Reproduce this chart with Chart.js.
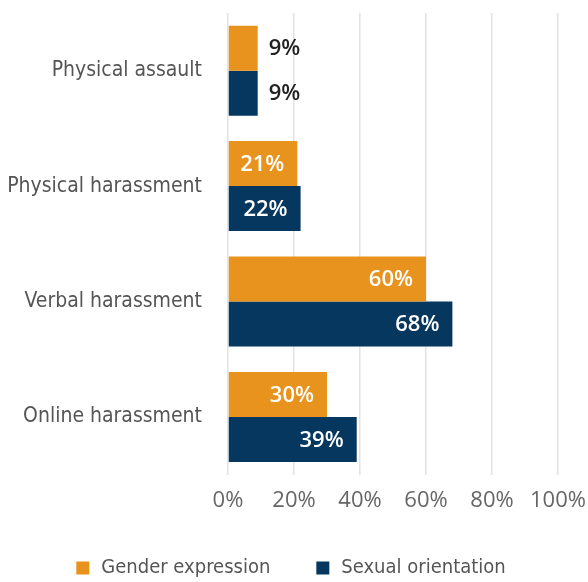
<!DOCTYPE html>
<html>
<head>
<meta charset="utf-8">
<script src="https://cdn.jsdelivr.net/npm/chart.js@4"></script>
<style>
  html, body { margin: 0; padding: 0; background: #fff; }
  #wrap { width: 588px; height: 582px; }
</style>
</head>
<body>
<div id="wrap"><canvas id="chart" width="588" height="582"></canvas></div>
<script>
const categories = ['Physical assault', 'Physical harassment', 'Verbal harassment', 'Online harassment'];
const genderExpression = [9, 21, 60, 30];
const sexualOrientation = [9, 22, 68, 39];
const xTicks = [0, 20, 40, 60, 80, 100];

const NARROW = "'Liberation Sans Narrow', 'DejaVu Sans Condensed', sans-serif";
const WIDE = "'Open Sans', sans-serif";

// labels on the bars: inside in white, outside in dark when the bar is too short
const barLabels = {
  id: 'barLabels',
  afterDatasetsDraw(chart) {
    const ctx = chart.ctx;
    ctx.save();
    ctx.font = "600 22px " + WIDE;
    ctx.textBaseline = 'middle';
    chart.data.datasets.forEach((ds, i) => {
      chart.getDatasetMeta(i).data.forEach((bar, j) => {
        const txt = ds.data[j] + '%';
        const w = ctx.measureText(txt).width;
        const len = bar.x - bar.base;
        if (len > w + 16) {
          ctx.fillStyle = '#fff';
          ctx.textAlign = 'right';
          ctx.fillText(txt, bar.x - 13, bar.y + 1);
        } else {
          ctx.fillStyle = '#222';
          ctx.textAlign = 'left';
          ctx.fillText(txt, bar.x + 11, bar.y + 1);
        }
      });
    });
    ctx.restore();
  }
};

// legend along the bottom, squares + labels, centred
const bottomLegend = {
  id: 'bottomLegend',
  afterDraw(chart) {
    const ctx = chart.ctx;
    ctx.save();
    ctx.font = "20px " + NARROW;
    ctx.textBaseline = 'middle';
    const items = chart.data.datasets.map(ds => ({ text: ds.label, color: ds.backgroundColor, w: ctx.measureText(ds.label).width }));
    const box = 13, gap = 12, sep = 46;
    let total = items.reduce((a, it) => a + box + gap + it.w, 0) + sep * (items.length - 1);
    let x = (chart.width - total) / 2 - 3;
    const y = 568;
    items.forEach(it => {
      ctx.fillStyle = it.color;
      ctx.fillRect(x, y - box / 2, box, box);
      ctx.fillStyle = '#555';
      ctx.textAlign = 'left';
      ctx.fillText(it.text, x + box + gap, y);
      x += box + gap + it.w + sep;
    });
    ctx.restore();
  }
};

new Chart(document.getElementById('chart'), {
  type: 'bar',
  data: {
    labels: categories,
    datasets: [
      { label: 'Gender expression', data: genderExpression, backgroundColor: '#E8931E' },
      { label: 'Sexual orientation', data: sexualOrientation, backgroundColor: '#06375F' }
    ]
  },
  options: {
    indexAxis: 'y',
    responsive: false,
    animation: false,
    layout: { padding: { top: 13, right: 30, bottom: 55, left: 0 } },
    datasets: { bar: { categoryPercentage: 0.78, barPercentage: 1 } },
    scales: {
      x: {
        min: 0, max: 100,
        afterBuildTicks: s => { s.ticks = xTicks.map(v => ({ value: v })); },
        afterFit: s => { s.paddingLeft = 0; s.paddingRight = 0; },
        ticks: { callback: v => v + '%', color: '#666', font: { family: WIDE, size: 22 }, padding: 13, maxRotation: 0 },
        grid: { color: '#e2e2e2', lineWidth: 1.5, drawTicks: false },
        border: { display: false }
      },
      y: {
        afterFit: s => { s.width = 228; s.paddingTop = 0; s.paddingBottom = 0; },
        ticks: { color: '#555', font: { family: NARROW, size: 21 }, padding: 18 },
        grid: { display: false },
        border: { display: false }
      }
    },
    plugins: {
      legend: { display: false },
      tooltip: { enabled: false }
    }
  },
  plugins: [barLabels, bottomLegend]
});
</script>
</body>
</html>
